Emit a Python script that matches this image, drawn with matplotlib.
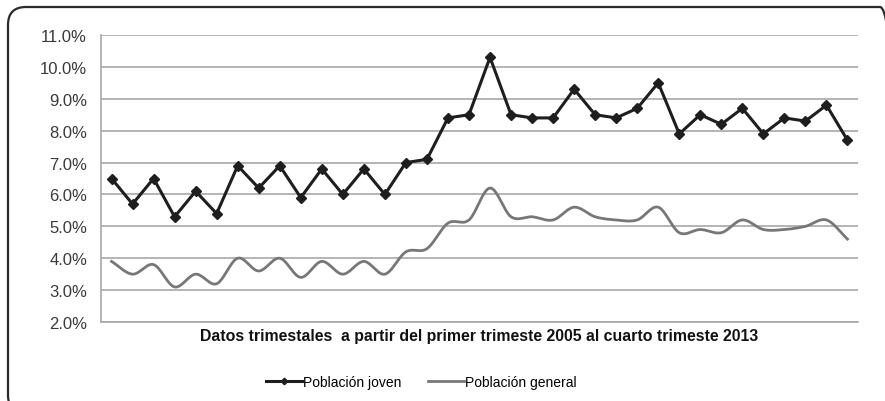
import numpy as np
import matplotlib
matplotlib.use("Agg")
from matplotlib import pyplot as plt
from matplotlib.patches import FancyBboxPatch
from matplotlib.ticker import FuncFormatter

plt.rcParams['font.family'] = ['Liberation Sans', 'DejaVu Sans']

# trimestres 2005T1 .. 2013T4
trimestres = [f"{a}T{t}" for a in range(2005, 2014) for t in range(1, 5)]

poblacion_joven = [6.5, 5.7, 6.5, 5.3, 6.1, 5.4, 6.9, 6.2, 6.9, 5.9, 6.8, 6.0,
                   6.8, 6.0, 7.0, 7.1, 8.4, 8.5, 10.3, 8.5, 8.4, 8.4, 9.3, 8.5,
                   8.4, 8.7, 9.5, 7.9, 8.5, 8.2, 8.7, 7.9, 8.4, 8.3, 8.8, 7.7]

poblacion_general = [3.9, 3.5, 3.8, 3.1, 3.5, 3.2, 4.0, 3.6, 4.0, 3.4, 3.9, 3.5,
                     3.9, 3.5, 4.2, 4.3, 5.1, 5.2, 6.2, 5.3, 5.3, 5.2, 5.6, 5.3,
                     5.2, 5.2, 5.6, 4.8, 4.9, 4.8, 5.2, 4.9, 4.9, 5.0, 5.2, 4.6]

etiqueta_x = "Datos trimestales  a partir del primer trimeste 2005 al cuarto trimeste 2013"


def suavizar(x, y, n=20):
    # curva tipo Catmull-Rom para imitar la "linea suavizada" de Excel
    x = np.asarray(x, float)
    y = np.asarray(y, float)
    px = np.concatenate([[2 * x[0] - x[1]], x, [2 * x[-1] - x[-2]]])
    py = np.concatenate([[2 * y[0] - y[1]], y, [2 * y[-1] - y[-2]]])
    xs, ys = [], []
    t = np.linspace(0, 1, n, endpoint=False)
    for i in range(1, len(px) - 2):
        for p, out in ((px, xs), (py, ys)):
            p0, p1, p2, p3 = p[i - 1], p[i], p[i + 1], p[i + 2]
            out.extend(0.5 * ((2 * p1) + (-p0 + p2) * t
                              + (2 * p0 - 5 * p1 + 4 * p2 - p3) * t ** 2
                              + (-p0 + 3 * p1 - 3 * p2 + p3) * t ** 3))
    xs.append(x[-1])
    ys.append(y[-1])
    return np.array(xs), np.array(ys)


fig = plt.figure(figsize=(8.85, 4.02), dpi=100)
fig.patch.set_facecolor("white")

# marco redondeado (en pixeles), parcialmente fuera de la imagen
marco = FancyBboxPatch((8, -12), 890, 406,
                       boxstyle="round,pad=0,rounding_size=18",
                       transform=None, fill=False,
                       edgecolor="#2a2a2a", linewidth=1.6, clip_on=False)
fig.patches.append(marco)

ax = fig.add_axes([101 / 885, 1 - 323 / 402, 757 / 885, 287 / 402])

x = np.arange(len(trimestres))
ax.plot(x, poblacion_joven, color="#1e1e1e", linewidth=2.2, marker="D",
        markersize=5.5, label="Población joven", zorder=3)
xs, ys = suavizar(x, poblacion_general)
ax.plot(xs, ys, color="#777777", linewidth=2.0, label="Población general", zorder=2)

ax.set_xlim(-0.5, len(trimestres) - 0.5)
ax.set_ylim(2.0, 11.0)
ax.set_yticks(np.arange(2.0, 11.01, 1.0))
ax.yaxis.set_major_formatter(FuncFormatter(lambda v, p: f"{v:.1f}%"))
ax.set_xticks([])
ax.grid(axis="y", color="#a8a8a8", linewidth=1.2)
ax.set_axisbelow(True)
for lado in ("top", "right"):
    ax.spines[lado].set_visible(False)
ax.spines["left"].set_color("#a8a8a8")
ax.spines["bottom"].set_color("#a8a8a8")
ax.spines["left"].set_linewidth(1.2)
ax.spines["bottom"].set_linewidth(1.2)
ax.tick_params(axis="y", length=0, pad=10, labelsize=12, labelcolor="#3a3a3a")

ax.set_xlabel(etiqueta_x, fontsize=11.4, fontweight="bold", color="#111111", labelpad=4)

ax.legend(loc="upper center", bbox_to_anchor=(0.423, -0.14), ncol=2, frameon=False,
          fontsize=10, handlelength=2.6, columnspacing=1.9, handletextpad=0.05,
          markerscale=0.6)

fig.savefig("out.png", dpi=100)
